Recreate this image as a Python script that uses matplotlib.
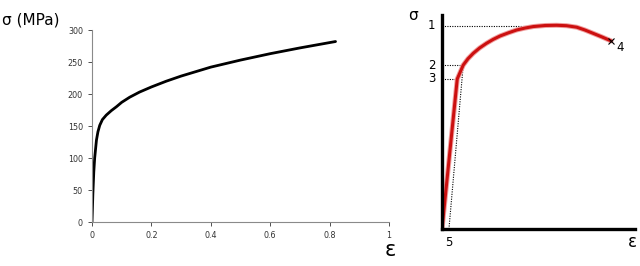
import matplotlib
matplotlib.use("Agg")
import matplotlib.pyplot as plt

# left chart: true stress-strain curve
eps = [0, 0.003, 0.006, 0.009, 0.015, 0.020, 0.026, 0.035, 0.048, 0.065, 0.082,
       0.10, 0.127, 0.16, 0.2, 0.25, 0.3, 0.35, 0.4, 0.5, 0.6, 0.7, 0.82]
sig = [0, 45, 78, 100, 128, 141, 151, 160, 167, 174, 180,
       187, 195, 203, 211, 220, 228, 235, 242, 253, 263, 272, 282]
x_ticks = [0, 0.2, 0.4, 0.6, 0.8, 1]
x_ticklabels = ["0", "0.2", "0.4", "0.6", "0.8", "1"]
y_ticks = [0, 50, 100, 150, 200, 250, 300]

# right chart: schematic engineering curve (arbitrary units)
sk_x = [0, 0.79, 1.10, 1.35, 1.62, 1.95, 2.31, 2.65, 3.01, 3.45, 3.87, 4.30, 4.73,
        5.35, 5.94, 6.45, 6.98, 7.40, 7.84, 8.30, 8.76]
sk_y = [0, 7.01, 7.66, 7.96, 8.21, 8.46, 8.68, 8.86, 9.02, 9.17, 9.30, 9.39, 9.46,
        9.51, 9.52, 9.50, 9.43, 9.30, 9.14, 8.97, 8.79]
lvl_labels = ["1", "2", "3"]
lvl_y = [9.50, 7.66, 7.01]
lvl_xend = [5.75, 1.10, 0.79]
offset_x = [0.36, 1.10]
offset_y = [0, 7.66]

W, H = 640, 266
fig = plt.figure(figsize=(W / 100, H / 100), dpi=100)

# ---- left
ax = fig.add_axes([92 / W, (H - 222) / H, (389 - 92) / W, (222 - 30) / H])
ax.plot(eps, sig, color="black", lw=2.0, solid_capstyle="round", solid_joinstyle="round")
ax.set_xlim(0, 1)
ax.set_ylim(0, 300)
ax.set_xticks(x_ticks)
ax.set_xticklabels(x_ticklabels)
ax.set_yticks(y_ticks)
ax.tick_params(labelsize=5.8, colors="#333333", length=3, width=0.6, direction="out")
for s in ["top", "right"]:
    ax.spines[s].set_visible(False)
for s in ["left", "bottom"]:
    ax.spines[s].set_color("#8a8a8a")
    ax.spines[s].set_linewidth(0.8)
fig.text(2 / W, 1 - 20 / H, "σ (MPa)", fontsize=11, va="center", ha="left")
fig.text(390 / W, 1 - 250 / H, "ε", fontsize=15, va="center", ha="center")

# ---- right
ax2 = fig.add_axes([442 / W, (H - 229) / H, (635 - 442) / W, (229 - 15) / H])
ax2.set_xlim(0, 10)
ax2.set_ylim(0, 10)
for yy, xe, lab in zip(lvl_y, lvl_xend, lvl_labels):
    ax2.plot([0, xe], [yy, yy], color="black", lw=0.8, ls=(0, (1, 1.2)))
    ax2.text(-0.35, yy, lab, fontsize=8.5, ha="right", va="center")
ax2.plot(offset_x, offset_y, color="black", lw=0.8, ls=(0, (1, 1.2)))
ax2.plot(sk_x, sk_y, color="#f0a0a0", lw=3.6, solid_capstyle="round", solid_joinstyle="round")
ax2.plot(sk_x, sk_y, color="#cc1010", lw=2.2, solid_capstyle="round", solid_joinstyle="round")
ax2.plot(sk_x[-1], sk_y[-1], marker="x", color="black", ms=4, mew=0.8)
ax2.text(sk_x[-1] + 0.3, sk_y[-1] - 0.3, "4", fontsize=8.5, ha="left", va="center")
ax2.text(offset_x[0], -0.35, "5", fontsize=8.5, ha="center", va="top")
ax2.set_xticks([])
ax2.set_yticks([])
for s in ["top", "right"]:
    ax2.spines[s].set_visible(False)
for s in ["left", "bottom"]:
    ax2.spines[s].set_linewidth(2.4)
    ax2.spines[s].set_color("black")
fig.text(413 / W, 1 - 15 / H, "σ", fontsize=11, ha="center", va="center")
fig.text(632 / W, 1 - 242 / H, "ε", fontsize=12, ha="center", va="center")

fig.savefig("out.png", dpi=100)
